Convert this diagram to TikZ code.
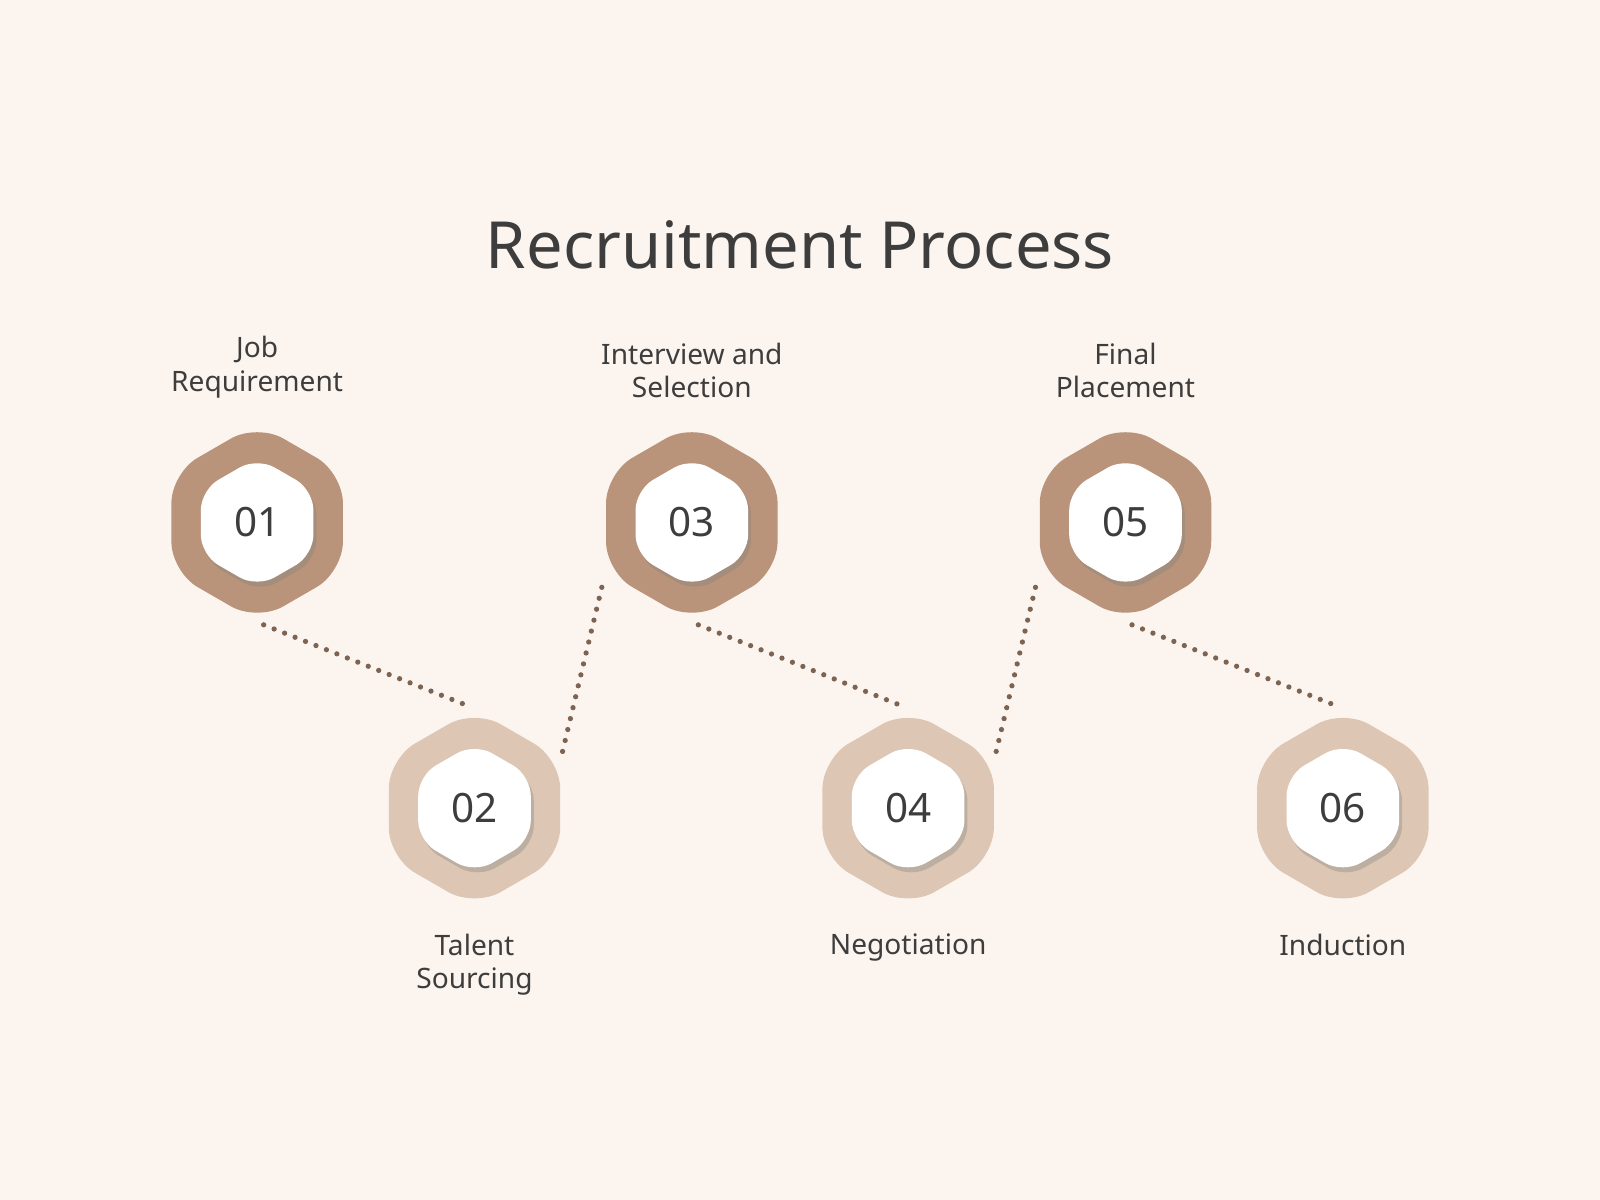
\documentclass[tikz,border=0pt]{standalone}
\usepackage{fontspec}
\setmainfont{Noto Sans}
\usetikzlibrary{shapes.geometric, shadows, positioning}
\definecolor{bgcol}{HTML}{FCF5EF}
\definecolor{darkhex}{HTML}{B9947A}
\definecolor{lighthex}{HTML}{DDC7B4}
\definecolor{txtcol}{HTML}{3D3D3D}
\definecolor{dotcol}{HTML}{7D6452}
\tikzset{
	outerhex/.style={regular polygon, regular polygon sides=6, shape border rotate=30, minimum size=1.98cm, rounded corners=0.3cm, inner sep=0pt},
	innerhex/.style={regular polygon, regular polygon sides=6, shape border rotate=30, minimum size=1.3cm, rounded corners=0.2cm, fill=white, inner sep=0pt, text=txtcol, font=\fontsize{11.5}{12}\selectfont\bfseries, drop shadow={shadow xshift=0.03cm, shadow yshift=-0.05cm, opacity=0.35}},
	steplabel/.style={align=center, text=txtcol, font=\fontsize{8}{9.5}\selectfont},
	dots/.style={draw=dotcol, line width=1.5pt, line cap=round, dash pattern=on 0pt off 3.2pt, shorten >=2pt, shorten <=2pt}
}
\begin{document}
\begin{tikzpicture}[x=1cm/98, y=-1cm/98]
	\fill[bgcol] (0,0) rectangle (1568,1176);
	\node[text=txtcol, font=\fontsize{18.5}{20}\selectfont\bfseries] (title) at (784,240) {Recruitment Process};
	\node[outerhex, fill=darkhex]  (hex1) at (252,512) {};
	\node[outerhex, fill=lighthex] (hex2) at (465,792) {};
	\node[outerhex, fill=darkhex]  (hex3) at (678,512) {};
	\node[outerhex, fill=lighthex] (hex4) at (890,792) {};
	\node[outerhex, fill=darkhex]  (hex5) at (1103,512) {};
	\node[outerhex, fill=lighthex] (hex6) at (1316,792) {};
	\foreach \i in {1,...,6}
		\node[innerhex] (num\i) at (hex\i) {0\i};
	\draw[dots] (hex1.corner 4) -- (hex2.corner 1);
	\draw[dots] (hex2.corner 6) -- (hex3.corner 3);
	\draw[dots] (hex3.corner 4) -- (hex4.corner 1);
	\draw[dots] (hex4.corner 6) -- (hex5.corner 3);
	\draw[dots] (hex5.corner 4) -- (hex6.corner 1);
	\node[steplabel, anchor=south] (lab1) at (252,402) {Job\\Requirement};
	\node[steplabel, anchor=south] (lab3) at (678,402) {Interview and\\Selection};
	\node[steplabel, anchor=south] (lab5) at (1103,402) {Final\\Placement};
	\node[steplabel, anchor=north] (lab2) at (465,903) {Talent\\Sourcing};
	\node[steplabel, anchor=north] (lab4) at (890,903) {Negotiation};
	\node[steplabel, anchor=north] (lab6) at (1316,903) {Induction};
\end{tikzpicture}
\end{document}
